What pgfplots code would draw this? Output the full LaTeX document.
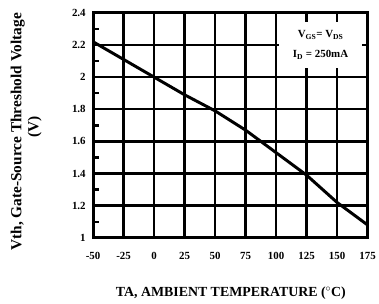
\documentclass[border=0pt]{standalone}
\usepackage{pgfplots}
\pgfplotsset{compat=1.18}
\usepackage{fontspec}
\setmainfont{Liberation Serif}
\begin{document}
\begin{tikzpicture}
\path (-94pt,-66pt) rectangle (287pt,240pt);
\begin{axis}[
  at={(0pt,0pt)}, anchor=south west,
  scale only axis, width=277pt, height=227pt,
  xmin=-50, xmax=175, ymin=1, ymax=2.4,
  xtick={-50,-25,0,25,50,75,100,125,150,175},
  ytick={1,1.2,1.4,1.6,1.8,2,2.2,2.4},
  yticklabels={1,1.2,1.4,1.6,1.8,2,2.2,2.4},
  minor ytick={1.1,1.3,1.5,1.7,1.9,2.1,2.3},
  tick pos=left,
  major tick length=0pt,
  minor tick length=6pt,
  tick align=inside,
  minor tick style={black, line width=2.4pt},
  axis line style={black, line width=2.8pt},
  tick label style={font=\fontsize{11}{12}\selectfont\bfseries},
  /pgf/number format/assume math mode=true,
  xticklabel style={yshift=-11pt},
  yticklabel style={xshift=-4pt},
  clip=false,
]
\pgfplotsinvokeforeach{-25,0,25,50,75,100,125,150}{
  \draw[black, line width=2.4pt] (axis cs:#1,1) -- (axis cs:#1,2.4);
}
\pgfplotsinvokeforeach{1.2,1.4,1.6,1.8,2.0,2.2}{
  \draw[black, line width=2.4pt] (axis cs:-50,#1) -- (axis cs:175,#1);
}
\addplot[black, line width=3pt] coordinates {
(-50,2.22) (-25,2.11) (0,2.0) (25,1.89) (50,1.79) (75,1.67) (100,1.53) (125,1.39) (150,1.22) (175,1.08)
};
\node[fill=white, inner sep=0pt, minimum width=83pt, minimum height=46pt, align=center, font=\fontsize{11}{20}\selectfont\bfseries] at (axis cs:136.5,2.2)
  {V\textsubscript{GS}= V\textsubscript{DS}\\ I\textsubscript{D} = 250mA};
\end{axis}
\node[font=\fontsize{14}{15}\selectfont\bfseries] at (139pt,-56pt) {TA, AMBIENT TEMPERATURE ($^{\circ}$C)};
\node[rotate=90, font=\fontsize{15.5}{16}\selectfont\bfseries] at (-76pt,107pt) {Vth, Gate-Source Threshold Voltage};
\node[rotate=90, font=\fontsize{15.5}{16}\selectfont\bfseries] at (-59pt,112pt) {(V)};
\end{tikzpicture}
\end{document}
